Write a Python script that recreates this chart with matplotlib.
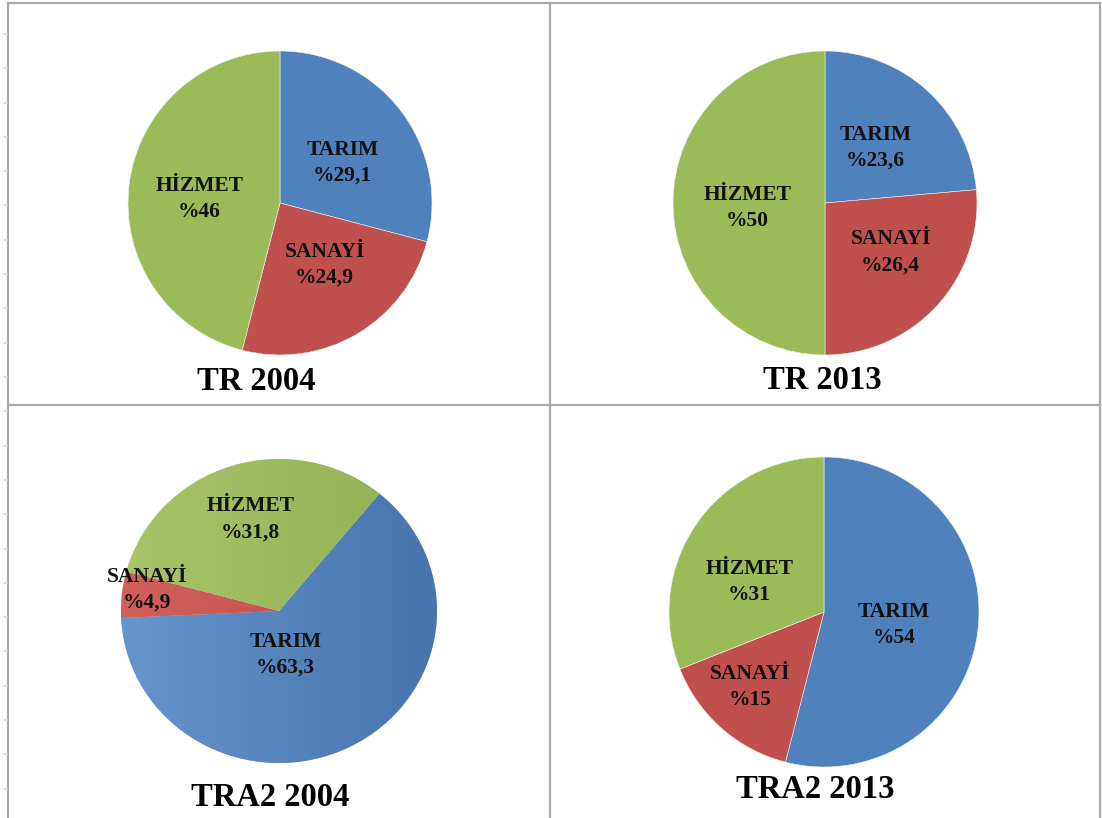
import numpy as np
import matplotlib
matplotlib.use("Agg")
import matplotlib.pyplot as plt
from matplotlib.lines import Line2D
from matplotlib.colors import LinearSegmentedColormap

# sector shares (%) for each region / year
sectors = ["TARIM", "SANAYİ", "HİZMET"]
tr_2004 = [29.1, 24.9, 46.0]
tr_2013 = [23.6, 26.4, 50.0]
tra2_2004 = [63.3, 4.9, 31.8]
tra2_2013 = [54.0, 15.0, 31.0]
pct_labels = {
    "TR 2004": ["%29,1", "%24,9", "%46"],
    "TR 2013": ["%23,6", "%26,4", "%50"],
    "TRA2 2004": ["%63,3", "%4,9", "%31,8"],
    "TRA2 2013": ["%54", "%15", "%31"],
}

colors = ["#4F81BD", "#C0504D", "#9BBB59"]
W, H = 1102, 818
plt.rcParams["font.family"] = ["Liberation Serif", "DejaVu Serif"]

fig = plt.figure(figsize=(W / 100, H / 100), dpi=100)
fig.patch.set_facecolor("white")


def px_box(cx, cy, rx, ry):
    return [(cx - rx) / W, (H - cy - ry) / H, 2 * rx / W, 2 * ry / H]


# layout per chart: pie centre/radii in px, start angle, label distance & angle tweak,
# title position in px, gradient fill
charts = [
    ("TR 2004", tr_2004, (280, 203, 152, 152), 90, [(0.49, -5), (0.50, 5.5), (0.53, 4)], (256, 382), False),
    ("TR 2013", tr_2013, (825, 203, 152, 152), 90, [(0.49, 0), (0.54, 5.5), (0.51, 4)], (822, 381), False),
    ("TRA2 2004", tra2_2004, (279, 611, 158, 152), 50.5, [(0.29, -18.6), (0.85, -3.3), (0.63, -1)], (270, 797), True),
    ("TRA2 2013", tra2_2013, (824, 612, 155, 155), 90, [(0.46, -3), (0.68, -3), (0.52, 12)], (815, 790), False),
]

grad = {
    0: ("#6694CC", "#4674AD"),
    1: ("#D0605C", "#BD4E4A"),
    2: ("#A8C46A", "#91B052"),
}

for title, values, (cx, cy, rx, ry), start, lab_pos, (tx, ty), gradient in charts:
    ax = fig.add_axes(px_box(cx, cy, rx, ry))
    wedges, _ = ax.pie(values, colors=colors, startangle=start, counterclock=False,
                       radius=1, wedgeprops=dict(edgecolor="#F2F2F2", linewidth=0.4))
    ax.set_aspect("auto")
    if gradient:
        xs = np.linspace(0, 1, 256)[None, :]
        for i, w in enumerate(wedges):
            cmap = LinearSegmentedColormap.from_list("g%d" % i, grad[i])
            im = ax.imshow(xs, cmap=cmap, extent=[-1, 1, -1, 1], aspect="auto",
                           zorder=w.get_zorder() + 0.1)
            im.set_clip_path(w)
    ax.set_xlim(-1, 1)
    ax.set_ylim(-1, 1)
    ax.axis("off")
    for i, w in enumerate(wedges):
        dist, tweak = lab_pos[i]
        mid = np.deg2rad((w.theta1 + w.theta2) / 2 + tweak)
        ax.text(dist * np.cos(mid), dist * np.sin(mid),
                sectors[i] + "\n" + pct_labels[title][i],
                ha="center", va="center", fontsize=15.5, fontweight="bold",
                color="#111111", linespacing=1.4, zorder=10, clip_on=False)
    fig.text(tx / W, 1 - ty / H, title, ha="center", va="center",
             fontsize=23.5, fontweight="bold", color="black")

# table grid lines
gcol = "#A8A8A8"
for x in (8, 550, 1100):
    fig.add_artist(Line2D([x / W, x / W], [0, 1 - 3 / H], color=gcol, linewidth=1.6))
for y in (3, 405):
    fig.add_artist(Line2D([8 / W, 1100 / W], [1 - y / H, 1 - y / H], color=gcol, linewidth=1.6))

# ruler ticks on the left edge
for y in np.arange(34, 818, 34.3):
    fig.add_artist(Line2D([4 / W, 7 / W], [1 - y / H, 1 - y / H], color="#D5D9E3", linewidth=1.2))

fig.savefig("out.png", dpi=100, facecolor="white")
